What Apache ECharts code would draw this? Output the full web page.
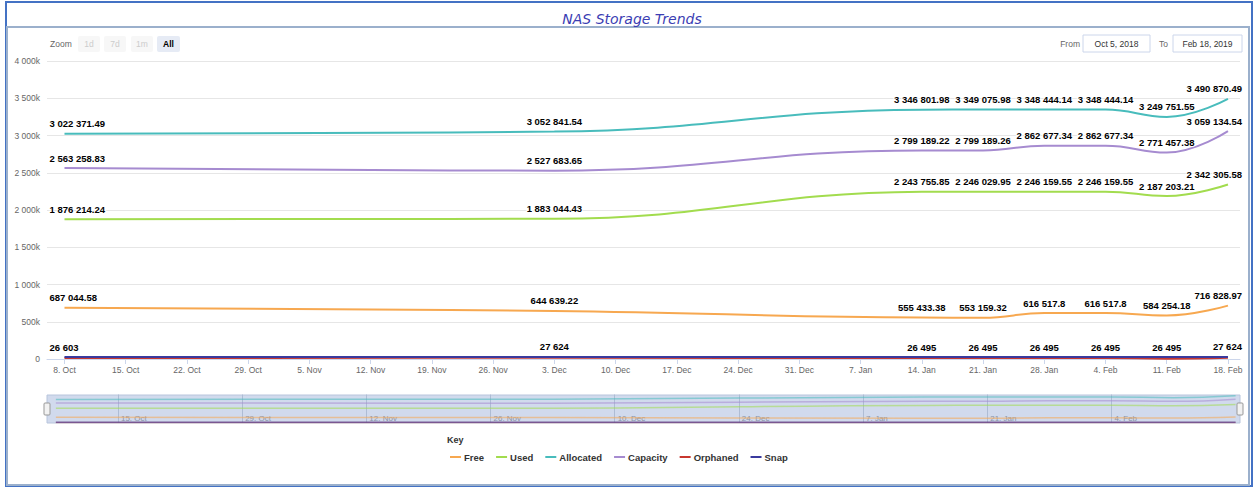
<!DOCTYPE html>
<html>
<head>
<meta charset="utf-8">
<title>NAS Storage Trends</title>
<script src="https://cdn.jsdelivr.net/npm/echarts@6/dist/echarts.min.js"></script>
<style>
  html, body { margin: 0; padding: 0; background: #fff; }
  #chart { width: 1255px; height: 488px; }
</style>
</head>
<body>
<div id="chart"></div>
<script>
// data points (one per week where a sample exists)
const dates = ['2018-10-08', '2018-12-03', '2019-01-14', '2019-01-21', '2019-01-28', '2019-02-04', '2019-02-11', '2019-02-18'];
const free = [687044.58, 644639.22, 555433.38, 553159.32, 616517.8, 616517.8, 584254.18, 716828.97];
const used = [1876214.24, 1883044.43, 2243755.85, 2246029.95, 2246159.55, 2246159.55, 2187203.21, 2342305.58];
const allocated = [3022371.49, 3052841.54, 3346801.98, 3349075.98, 3348444.14, 3348444.14, 3249751.55, 3490870.49];
const capacity = [2563258.83, 2527683.65, 2799189.22, 2799189.26, 2862677.34, 2862677.34, 2771457.38, 3059134.54];
const orphaned = [14500, 15200, 14800, 14800, 14800, 14800, 3000, 15200];
const snap = [26603, 27624, 26495, 26495, 26495, 26495, 26495, 27624];

// axis ticks
const weekTicks = ['2018-10-08', '2018-10-15', '2018-10-22', '2018-10-29', '2018-11-05', '2018-11-12', '2018-11-19',
  '2018-11-26', '2018-12-03', '2018-12-10', '2018-12-17', '2018-12-24', '2018-12-31', '2019-01-07', '2019-01-14',
  '2019-01-21', '2019-01-28', '2019-02-04', '2019-02-11', '2019-02-18'];
const navTicks = ['2018-10-15', '2018-10-29', '2018-11-12', '2018-11-26', '2018-12-10', '2018-12-24', '2019-01-07',
  '2019-01-21', '2019-02-04'];
const monthNames = ['Jan', 'Feb', 'Mar', 'Apr', 'May', 'Jun', 'Jul', 'Aug', 'Sep', 'Oct', 'Nov', 'Dec'];

const FONT = '"Liberation Sans", Arial, sans-serif';

function toTs(s, hours) {
  const p = s.split('-');
  return new Date(+p[0], +p[1] - 1, +p[2], hours || 0).getTime();
}
function dayLabel(v) {
  const d = new Date(v);
  return d.getDate() + '. ' + monthNames[d.getMonth()];
}
// 3022371.49 -> "3 022 371.49"
function spaced(v) {
  const parts = String(v).split('.');
  const intPart = parts[0].replace(/\B(?=(\d{3})+(?!\d))/g, ' ');
  return parts.length > 1 ? intPart + '.' + parts[1] : intPart;
}

const chartInstance = echarts.init(document.getElementById('chart'), null, { renderer: 'svg' });

const seriesDefs = [
  { name: 'Free', data: free, color: '#f7a850' },
  { name: 'Used', data: used, color: '#a2dc4e' },
  { name: 'Allocated', data: allocated, color: '#48bcbc' },
  { name: 'Capacity', data: capacity, color: '#a68bd0' },
  { name: 'Orphaned', data: orphaned, color: '#c8372f', noLabel: true },
  { name: 'Snap', data: snap, color: '#3a3a9e' }
];

const mainSeries = seriesDefs.map((s) => {
  const last = s.data.length - 1;
  return {
    name: s.name,
    type: 'line',
    smooth: 0.45,
    // symbols are kept (transparent) so the data labels get drawn
    showSymbol: !s.noLabel,
    symbol: 'circle',
    symbolSize: 2,
    itemStyle: { color: 'rgba(0,0,0,0)', borderWidth: 0 },
    lineStyle: { width: 2, color: s.color },
    xAxisIndex: 0,
    yAxisIndex: 0,
    label: {
      show: !s.noLabel,
      position: 'top',
      distance: 4,
      fontFamily: FONT,
      fontSize: 9.5,
      fontWeight: 'bold',
      color: '#000',
      textBorderColor: '#fff',
      textBorderWidth: 2,
      formatter: (p) => spaced(p.value[1])
    },
    data: s.data.map((v, i) => {
      const item = { value: [toTs(dates[i]), v] };
      // keep edge labels inside the plot like highcharts does
      if (i === 0) item.label = { align: 'left', offset: [-15, 0] };
      if (i === last) item.label = { align: 'right', offset: [14, 0] };
      return item;
    })
  };
});

// small copies of the series drawn in the navigator strip
const navSeries = seriesDefs.map((s) => ({
  name: s.name + '_nav',
  type: 'line',
  smooth: 0.45,
  showSymbol: false,
  silent: true,
  xAxisIndex: 1,
  yAxisIndex: 1,
  lineStyle: { width: 1.5, color: s.color, opacity: 0.55 },
  data: s.data.map((v, i) => [toTs(dates[i]), v])
}));

const btnStyle = { fill: '#f7f7f7', stroke: null };
const graphics = [
  // outer frame and panel
  { type: 'rect', shape: { x: 6, y: 2, width: 1246, height: 484 }, style: { fill: 'none', stroke: '#4472c4', lineWidth: 2 }, silent: true },
  { type: 'rect', shape: { x: 7, y: 27, width: 1242, height: 458 }, style: { fill: 'none', stroke: '#9bb0cc', lineWidth: 2 }, silent: true },
  { type: 'text', x: 632, y: 19, style: { text: 'NAS Storage Trends', align: 'center', verticalAlign: 'middle', font: 'italic 14px "DejaVu Sans", sans-serif', fill: '#3b3db3' } },
  // zoom buttons
  { type: 'text', x: 50, y: 44, style: { text: 'Zoom', verticalAlign: 'middle', font: '8.5px ' + FONT, fill: '#666' } },
  { type: 'rect', shape: { x: 78, y: 36, width: 22, height: 16, r: 2 }, style: btnStyle },
  { type: 'text', x: 89, y: 44, style: { text: '1d', align: 'center', verticalAlign: 'middle', font: '8.5px ' + FONT, fill: '#ccc' } },
  { type: 'rect', shape: { x: 104, y: 36, width: 22, height: 16, r: 2 }, style: btnStyle },
  { type: 'text', x: 115, y: 44, style: { text: '7d', align: 'center', verticalAlign: 'middle', font: '8.5px ' + FONT, fill: '#ccc' } },
  { type: 'rect', shape: { x: 131, y: 36, width: 22, height: 16, r: 2 }, style: btnStyle },
  { type: 'text', x: 142, y: 44, style: { text: '1m', align: 'center', verticalAlign: 'middle', font: '8.5px ' + FONT, fill: '#ccc' } },
  { type: 'rect', shape: { x: 157, y: 36, width: 23, height: 16, r: 2 }, style: { fill: '#e6ebf5' } },
  { type: 'text', x: 168.5, y: 44, style: { text: 'All', align: 'center', verticalAlign: 'middle', font: 'bold 8.5px ' + FONT, fill: '#000' } },
  // date range inputs
  { type: 'text', x: 1080, y: 44, style: { text: 'From', align: 'right', verticalAlign: 'middle', font: '8.5px ' + FONT, fill: '#666' } },
  { type: 'rect', shape: { x: 1083, y: 35, width: 67, height: 17 }, style: { fill: '#fff', stroke: '#ccd6eb', lineWidth: 1 } },
  { type: 'text', x: 1116.5, y: 44, style: { text: 'Oct 5, 2018', align: 'center', verticalAlign: 'middle', font: '8.5px ' + FONT, fill: '#333' } },
  { type: 'text', x: 1168, y: 44, style: { text: 'To', align: 'right', verticalAlign: 'middle', font: '8.5px ' + FONT, fill: '#666' } },
  { type: 'rect', shape: { x: 1173, y: 35, width: 69, height: 17 }, style: { fill: '#fff', stroke: '#ccd6eb', lineWidth: 1 } },
  { type: 'text', x: 1207.5, y: 44, style: { text: 'Feb 18, 2019', align: 'center', verticalAlign: 'middle', font: '8.5px ' + FONT, fill: '#333' } },
  // navigator handles
  { type: 'rect', z: 100, shape: { x: 44, y: 403, width: 6, height: 12, r: 1 }, style: { fill: '#f2f2f2', stroke: '#999', lineWidth: 1 } },
  { type: 'rect', z: 100, shape: { x: 1237, y: 403, width: 6, height: 12, r: 1 }, style: { fill: '#f2f2f2', stroke: '#999', lineWidth: 1 } },
  // legend title
  { type: 'text', x: 447, y: 440, style: { text: 'Key', verticalAlign: 'middle', font: 'bold 9px ' + FONT, fill: '#333' } }
];

const option = {
  animation: false,
  backgroundColor: '#fff',
  textStyle: { fontFamily: FONT },
  grid: [
    { left: 47, top: 61, width: 1193, height: 298 },
    // navigator strip
    { left: 47, top: 395, width: 1193, height: 28, show: true, backgroundColor: 'rgba(102,133,194,0.3)', borderColor: '#b8c5dc', borderWidth: 1 }
  ],
  xAxis: [
    {
      type: 'value',
      gridIndex: 0,
      min: toTs('2018-10-06'),
      max: toTs('2019-02-19', 9),
      axisLine: { lineStyle: { color: '#ccd6eb' } },
      axisTick: { show: true, length: 5, lineStyle: { color: '#ccd6eb' }, customValues: weekTicks.map((d) => toTs(d)) },
      axisLabel: {
        customValues: weekTicks.map((d) => toTs(d)),
        formatter: dayLabel,
        fontSize: 8.5,
        color: '#666',
        margin: 6,
        hideOverlap: false
      },
      splitLine: { show: false }
    },
    {
      type: 'value',
      gridIndex: 1,
      min: toTs('2018-10-07'),
      max: toTs('2019-02-18', 12),
      axisLine: { show: false },
      axisTick: { show: true, inside: true, length: 28, lineStyle: { color: '#aebcd4' }, customValues: navTicks.map((d) => toTs(d)) },
      axisLabel: {
        inside: true,
        customValues: navTicks.map((d) => toTs(d)),
        formatter: dayLabel,
        align: 'left',
        padding: [0, 0, 0, 3],
        margin: 1,
        fontSize: 8,
        color: '#8a94a8'
      },
      splitLine: { show: false }
    }
  ],
  yAxis: [
    {
      type: 'value',
      gridIndex: 0,
      min: 0,
      max: 4000000,
      interval: 500000,
      axisLine: { show: false },
      axisTick: { show: false },
      axisLabel: {
        fontSize: 8.5,
        color: '#666',
        margin: 7,
        formatter: (v) => (v === 0 ? '0' : spaced(v / 1000) + 'k')
      },
      splitLine: { lineStyle: { color: '#e6e6e6' } }
    },
    {
      type: 'value',
      gridIndex: 1,
      min: -60000,
      max: 3600000,
      show: false,
      splitLine: { show: false }
    }
  ],
  legend: {
    data: seriesDefs.map((s) => ({ name: s.name, itemStyle: { color: s.color } })),
    left: 445,
    top: 447,
    icon: 'rect',
    itemWidth: 11,
    itemHeight: 2,
    itemGap: 12,
    textStyle: { fontFamily: FONT, fontSize: 9.5, fontWeight: 'bold', color: '#333', padding: [0, 0, 0, -2] }
  },
  graphic: graphics,
  series: mainSeries.concat(navSeries)
};

chartInstance.setOption(option);
</script>
</body>
</html>
